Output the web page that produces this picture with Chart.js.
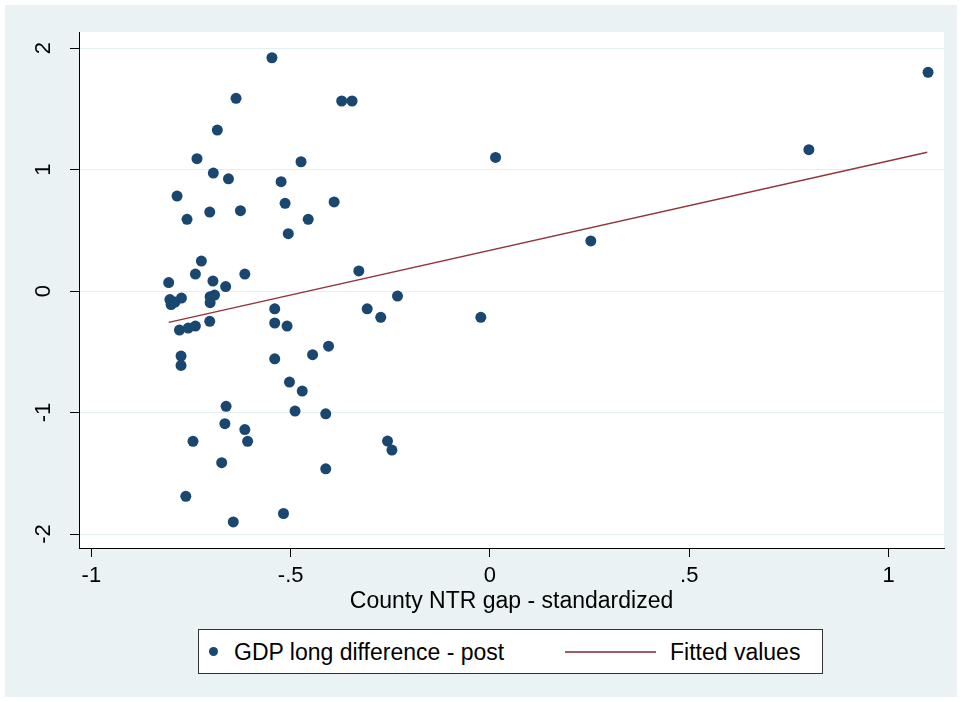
<!DOCTYPE html>
<html>
<head>
<meta charset="utf-8">
<script src="https://cdn.jsdelivr.net/npm/chart.js@4.4.0/dist/chart.umd.min.js"></script>
<style>
    body { margin: 0; background: #ffffff; }
    #wrap { position: relative; width: 961px; height: 702px; font-family: "Liberation Sans", Arial, sans-serif; }
    #legend {
        position: absolute; left: 198px; top: 629px; width: 625px; height: 45px;
        box-sizing: border-box; border: 1px solid #333333; background: #ffffff;
    }
    #legend span { position: absolute; font-size: 23px; line-height: 23px; color: #000; white-space: nowrap; }
    #legend .dot { width: 9px; height: 9px; border-radius: 50%; background: #1a476f; left: 10px; top: 17px; }
    #legend .line { width: 91px; height: 2px; background: #a65a5f; left: 366px; top: 21px; }
</style>
</head>
<body>
<div id="wrap">
    <canvas id="chart" width="961" height="702"></canvas>
    <div id="legend">
        <span class="dot"></span>
        <span style="left: 35px; top: 11px;">GDP long difference - post</span>
        <span class="line"></span>
        <span style="left: 471px; top: 11px;">Fitted values</span>
    </div>
</div>
<script>
// County NTR gap (x) and GDP long difference - post (y)
const ntrGap = [-0.547, 1.099, -0.637, -0.372, -0.346, -0.684, -0.735, -0.474, 0.014, 0.800,
    -0.694, -0.656, -0.524, -0.785, -0.514, -0.391, -0.703, -0.626, -0.760, -0.456,
    -0.506, 0.253, -0.724, -0.739, -0.615, -0.329, -0.806, -0.695, -0.663, -0.803,
    -0.800, -0.790, -0.774, -0.702, -0.691, -0.702, -0.232, -0.540, -0.308, -0.023,
    -0.274, -0.703, -0.540, -0.509, -0.779, -0.757, -0.739, -0.775, -0.775, -0.540,
    -0.445, -0.405, -0.503, -0.471, -0.489, -0.412, -0.662, -0.665, -0.615, -0.608,
    -0.745, -0.257, -0.246, -0.673, -0.412, -0.763, -0.518, -0.644];
const gdpDiff = [1.920, 1.800, 1.586, 1.564, 1.564, 1.325, 1.089, 1.064, 1.100, 1.163,
    0.971, 0.924, 0.900, 0.782, 0.722, 0.733, 0.650, 0.661, 0.590, 0.590,
    0.472, 0.412, 0.247, 0.140, 0.140, 0.165, 0.070, 0.082, 0.037, -0.070,
    -0.111, -0.091, -0.058, -0.047, -0.033, -0.096, -0.041, -0.146, -0.146, -0.216,
    -0.216, -0.249, -0.263, -0.288, -0.321, -0.305, -0.288, -0.535, -0.612, -0.558,
    -0.524, -0.454, -0.749, -0.823, -0.988, -1.011, -0.949, -1.092, -1.140, -1.237,
    -1.237, -1.235, -1.309, -1.413, -1.463, -1.690, -1.831, -1.900];

// Fitted values line endpoints
const fitX = [-0.806, 1.097];
const fitY = [-0.258, 1.142];

// Tick values and their Stata-style labels
const xTicks = [-1, -0.5, 0, 0.5, 1];
const xTickLabels = ["-1", "-.5", "0", ".5", "1"];
const yTicks = [-2, -1, 0, 1, 2];
const yTickLabels = ["-2", "-1", "0", "1", "2"];

const FONT = '"Liberation Sans", Arial, sans-serif';

// Gray graph region and white plot region behind everything
const stataBackground = {
    id: "stataBackground",
    beforeDraw(chart) {
        const { ctx, chartArea } = chart;
        ctx.save();
        ctx.fillStyle = "#eaf2f3";
        ctx.fillRect(5, 5, 952, 692);
        ctx.fillStyle = "#ffffff";
        ctx.fillRect(chartArea.left, chartArea.top, chartArea.right - chartArea.left, chartArea.bottom - chartArea.top);
        ctx.restore();
    }
};

const ctx = document.getElementById("chart").getContext("2d");
new Chart(ctx, {
    type: "scatter",
    data: {
        datasets: [
            {
                label: "GDP long difference - post",
                data: ntrGap.map((x, i) => ({ x: x, y: gdpDiff[i] })),
                backgroundColor: "#1a476f",
                borderWidth: 0,
                pointRadius: 5.5,
                order: 1
            },
            {
                type: "line",
                label: "Fitted values",
                data: fitX.map((x, i) => ({ x: x, y: fitY[i] })),
                borderColor: "#90353b",
                borderWidth: 1.5,
                pointRadius: 0,
                fill: false,
                order: 0
            }
        ]
    },
    options: {
        responsive: false,
        animation: false,
        devicePixelRatio: 1,
        layout: { padding: { left: 0, top: 32, right: 17, bottom: 87 } },
        plugins: {
            legend: { display: false },
            tooltip: { enabled: false }
        },
        scales: {
            x: {
                type: "linear",
                min: -1.031,
                max: 1.139,
                afterBuildTicks: (s) => { s.ticks = xTicks.map(v => ({ value: v })); },
                afterFit: (s) => { s.height = 67; },
                ticks: {
                    maxRotation: 0,
                    padding: 6,
                    color: "#000",
                    font: { family: FONT, size: 22 },
                    callback: (v) => xTickLabels[xTicks.indexOf(v)]
                },
                grid: { drawOnChartArea: false, tickColor: "#000", tickLength: 9 },
                border: { color: "#000", width: 1 },
                title: {
                    display: true,
                    text: "County NTR gap - standardized",
                    color: "#000",
                    padding: 0,
                    font: { family: FONT, size: 23 }
                }
            },
            y: {
                min: -2.115,
                max: 2.132,
                afterBuildTicks: (s) => { s.ticks = yTicks.map(v => ({ value: v })); },
                afterFit: (s) => { s.width = 79; },
                ticks: {
                    minRotation: 90,
                    maxRotation: 90,
                    crossAlign: "center",
                    padding: 16,
                    color: "#000",
                    font: { family: FONT, size: 22 },
                    callback: (v) => yTickLabels[yTicks.indexOf(v)]
                },
                grid: { color: "#e4eef0", lineWidth: 1, tickColor: "#000", tickLength: 9 },
                border: { color: "#000", width: 1 }
            }
        }
    },
    plugins: [stataBackground]
});
</script>
</body>
</html>
